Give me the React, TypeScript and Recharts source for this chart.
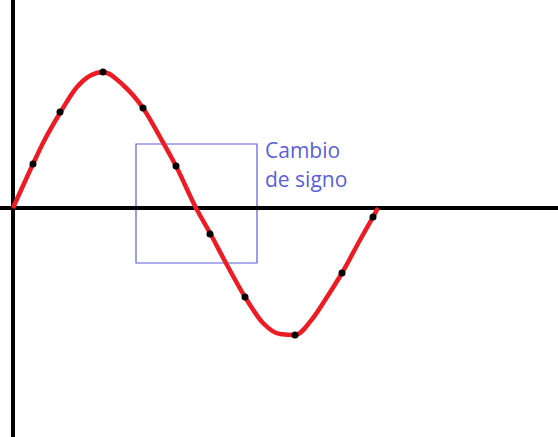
import {
  ComposedChart,
  Line,
  Scatter,
  XAxis,
  YAxis,
  ReferenceLine,
  ReferenceArea,
} from 'recharts';

// hand-drawn sine curve (x to the right of the y axis, y above the x axis)
const curveX = [0, 20, 30, 47, 64, 90, 110, 130, 147, 163, 183, 197, 214, 232, 250, 267, 282, 300, 314, 329, 347, 360, 365];
const curveY = [0, 44, 65, 95, 121, 136, 123, 100, 71, 42, 0, -25, -57, -89, -115, -126, -127, -110, -89, -65, -32, -9, 0];

// black points marked on the curve
const dotX = [20, 47, 90, 130, 163, 197, 232, 282, 329, 360];
const dotY = [44, 96, 136, 100, 42, -26, -89, -127, -65, -9];

// the "sign change" box
const boxX = [123, 244];
const boxY = [-55, 64];
const boxText = ['Cambio', 'de signo'];

const curve = curveX.map((x, i) => ({ x, y: curveY[i] }));
const dots = dotX.map((x, i) => ({ x, y: dotY[i] }));

const blue = '#5a5fd8';

function BoxLabel(props: any) {
  const vb = props.viewBox || {};
  const left = vb.x + vb.width + 8;
  return (
    <text
      x={left}
      y={vb.y + 14}
      fill={blue}
      fontSize={21}
      fontFamily="'Open Sans', sans-serif"
    >
      <tspan x={left}>{boxText[0]}</tspan>
      <tspan x={left} dy={29}>
        {boxText[1]}
      </tspan>
    </text>
  );
}

export default function App() {
  return (
    <div style={{ position: 'absolute', left: 0, top: 0, background: '#fff' }}>
      <ComposedChart
        width={558}
        height={437}
        margin={{ top: 0, right: 0, bottom: 0, left: 0 }}
      >
        <XAxis dataKey="x" type="number" domain={[-13, 545]} hide allowDataOverflow />
        <YAxis type="number" domain={[-229, 208]} hide allowDataOverflow />
        <ReferenceLine x={0} stroke="#000" strokeWidth={4} />
        <ReferenceLine y={0} stroke="#000" strokeWidth={4} />
        <ReferenceArea
          x1={boxX[0]}
          x2={boxX[1]}
          y1={boxY[0]}
          y2={boxY[1]}
          fill="none"
          fillOpacity={0}
          stroke={blue}
          strokeWidth={1.2}
          label={BoxLabel}
        />
        <Line
          data={curve}
          dataKey="y"
          type="monotone"
          stroke="#ed1c24"
          strokeWidth={4.5}
          dot={false}
          activeDot={false}
          isAnimationActive={false}
        />
        <Scatter
          data={dots}
          dataKey="y"
          isAnimationActive={false}
          activeShape={(p: any) => <circle cx={p.cx} cy={p.cy} r={3.5} fill="#000" />}
          shape={(p: any) => <circle cx={p.cx} cy={p.cy} r={3.5} fill="#000" />}
        />
      </ComposedChart>
    </div>
  );
}
